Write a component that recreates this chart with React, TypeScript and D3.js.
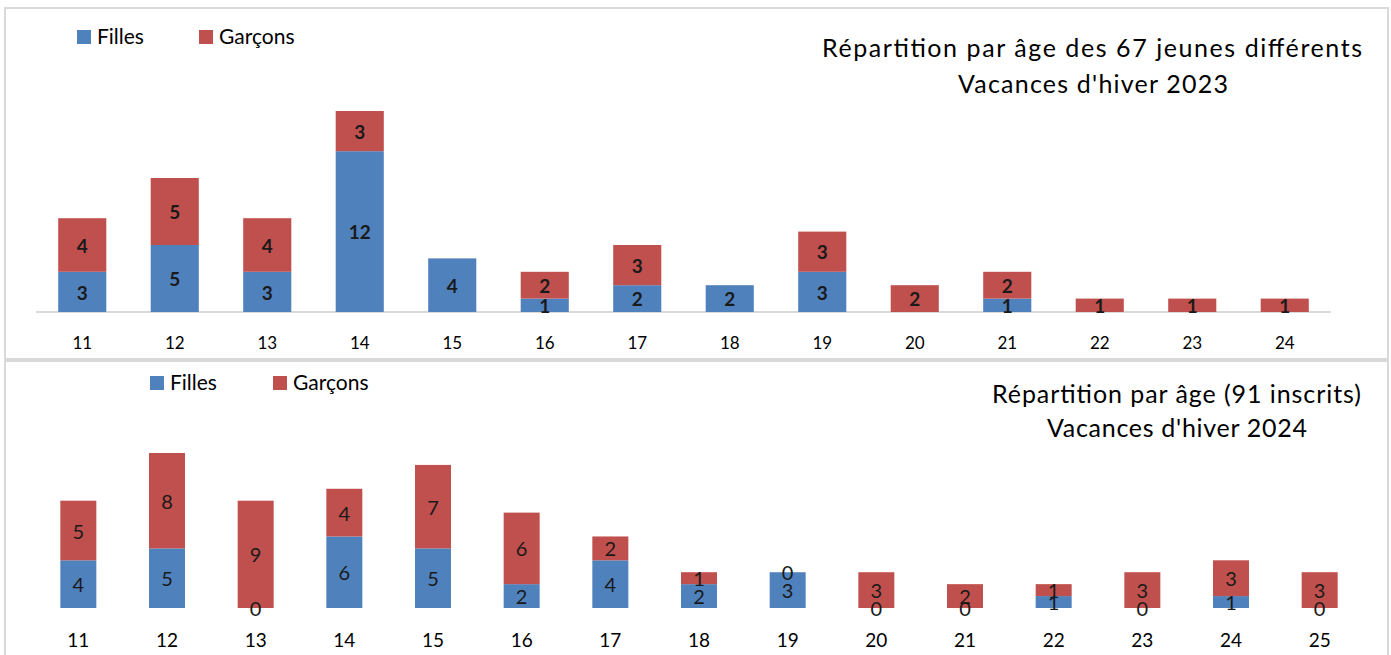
import React from "react";
import * as d3 from "d3";

const ages2023 = ["11", "12", "13", "14", "15", "16", "17", "18", "19", "20", "21", "22", "23", "24"];
const filles2023 = [3, 5, 3, 12, 4, 1, 2, 2, 3, 0, 1, 0, 0, 0];
const garcons2023 = [4, 5, 4, 3, 0, 2, 3, 0, 3, 2, 2, 1, 1, 1];

const ages2024 = ["11", "12", "13", "14", "15", "16", "17", "18", "19", "20", "21", "22", "23", "24", "25"];
const filles2024 = [4, 5, 0, 6, 5, 2, 4, 2, 3, 0, 0, 1, 0, 1, 0];
const garcons2024 = [5, 8, 9, 4, 7, 6, 2, 1, 0, 3, 2, 1, 3, 3, 3];

const seriesNames = ["Filles", "Garçons"];
const title2023 = ["Répartition par âge des 67 jeunes différents", "Vacances d'hiver 2023"];
const title2024 = ["Répartition par âge (91 inscrits)", "Vacances d'hiver 2024"];

const BLUE = "#4F81BD";
const RED = "#C0504D";
const FONT = "Lato, 'Open Sans', sans-serif";

type ChartProps = {
  ages: string[];
  filles: number[];
  garcons: number[];
  xRange: [number, number];
  padding: number;
  yMax: number;
  yRange: [number, number];
  showZero: boolean;
  labelWeight: string;
  labelSize: number;
  tickY: number;
  tickSize: number;
  axisLine: boolean;
  legendX: number;
  legendY: number;
  legendGap: number;
  title: string[];
  titleX: number[];
  titleLen: number[];
  titleY: number;
  titleSize: number;
  titleGap: number;
};

function Chart(p: ChartProps) {
  const x = d3.scaleBand<string>().domain(p.ages).range(p.xRange).paddingInner(p.padding).paddingOuter(p.padding / 2);
  const y = d3.scaleLinear().domain([0, p.yMax]).range(p.yRange);
  const stack = d3.stack<any>().keys(["f", "g"]);
  const rows = p.ages.map((a, i) => ({ age: a, f: p.filles[i], g: p.garcons[i] }));
  const layers = stack(rows);
  const colors = [BLUE, RED];
  return (
    <g>
      {p.axisLine && (
        <line x1={p.xRange[0]} x2={p.xRange[1]} y1={y(0)} y2={y(0)} stroke="#d9d9d9" strokeWidth={2} />
      )}
      {layers.map((layer, li) => (
        <g key={li}>
          {layer.map((d, i) => {
            const v = d[1] - d[0];
            if (v <= 0) return null;
            return (
              <rect key={i} x={x(p.ages[i])!} width={x.bandwidth()} y={y(d[1])} height={y(d[0]) - y(d[1])} fill={colors[li]} />
            );
          })}
        </g>
      ))}
      {layers.map((layer, li) => (
        <g key={"l" + li}>
          {layer.map((d, i) => {
            const v = d[1] - d[0];
            if (v <= 0 && !p.showZero) return null;
            const cy = (y(d[0]) + y(d[1])) / 2;
            return (
              <text key={i} x={x(p.ages[i])! + x.bandwidth() / 2} y={cy} dy="0.4em" textAnchor="middle"
                fontFamily={FONT} fontSize={p.labelSize} fontWeight={p.labelWeight} fill="#1a1a1a">
                {v}
              </text>
            );
          })}
        </g>
      ))}
      {p.ages.map((a) => (
        <text key={a} x={x(a)! + x.bandwidth() / 2} y={p.tickY} dy="0.35em" textAnchor="middle" fontFamily={FONT} fontSize={p.tickSize} fill="#000">
          {a}
        </text>
      ))}
      {seriesNames.map((s, i) => (
        <g key={s} transform={`translate(${p.legendX + i * p.legendGap},${p.legendY})`}>
          <rect x={0} y={-7} width={14} height={14} fill={colors[i]} />
          <text x={20} y={0} dy="0.35em" fontFamily={FONT} fontSize={21} fill="#000">{s}</text>
        </g>
      ))}
      {p.title.map((t, i) => (
        <text key={i} x={p.titleX[i]} y={p.titleY + i * p.titleGap} dy="0.35em" textAnchor="middle" fontFamily={FONT}
          fontSize={p.titleSize} fill="#000" textLength={p.titleLen[i]} lengthAdjust="spacing">
          {t}
        </text>
      ))}
    </g>
  );
}

export default function App() {
  return (
    <svg width={1391} height={655} style={{ position: "absolute", left: 0, top: 0, background: "#fff" }}>
      <rect x={0} y={0} width={1391} height={655} fill="#fff" />
      <rect x={5} y={8} width={1383} height={351} fill="#fff" stroke="#d9d9d9" strokeWidth={2} />
      <rect x={5} y={361} width={1383} height={300} fill="#fff" stroke="#d9d9d9" strokeWidth={2} />
      <Chart
        ages={ages2023} filles={filles2023} garcons={garcons2023}
        xRange={[36, 1331]} padding={0.48} yMax={15} yRange={[312, 111]}
        showZero={false} labelWeight="bold" labelSize={19}
        tickY={343} tickSize={17} axisLine={true}
        legendX={77} legendY={37} legendGap={122}
        title={title2023} titleX={[1092, 1093]} titleLen={[540, 270]} titleY={48} titleSize={25} titleGap={36}
      />
      <Chart
        ages={ages2024} filles={filles2024} garcons={garcons2024}
        xRange={[34, 1364]} padding={0.594} yMax={13} yRange={[608, 453]}
        showZero={true} labelWeight="normal" labelSize={20}
        tickY={640} tickSize={19} axisLine={false}
        legendX={150} legendY={383} legendGap={123}
        title={title2024} titleX={[1176.5, 1177]} titleLen={[369, 260]} titleY={394} titleSize={25} titleGap={34}
      />
    </svg>
  );
}
